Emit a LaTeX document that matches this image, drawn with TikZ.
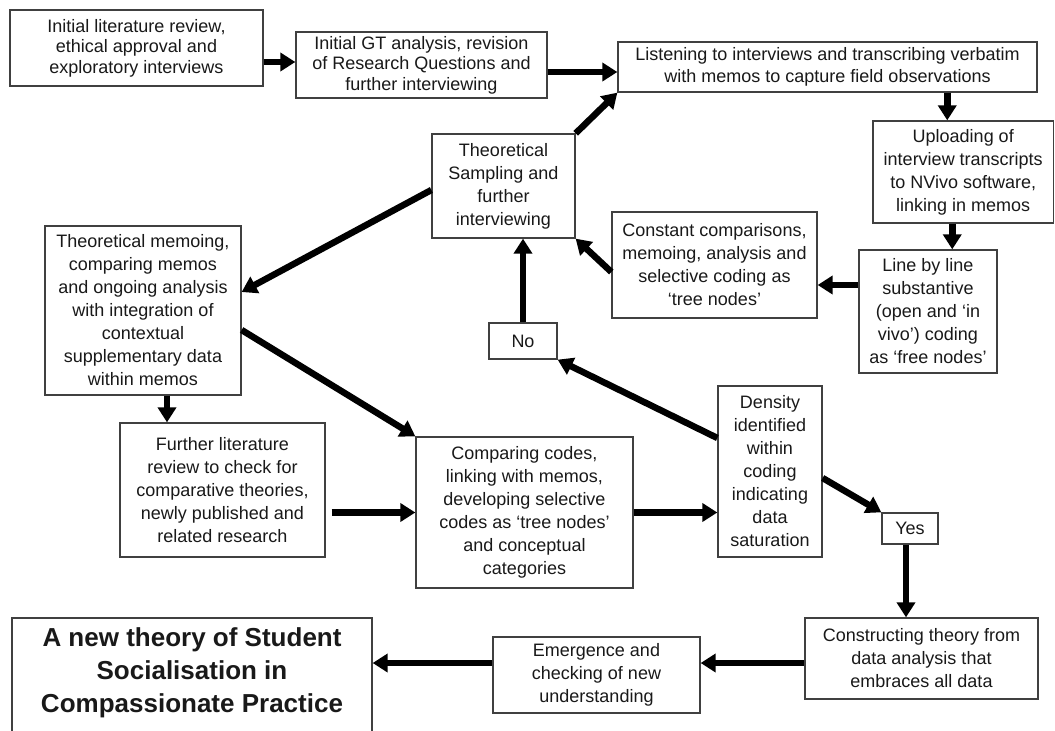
\documentclass[tikz,border=0pt]{standalone}
\usepackage{fontspec}
\setmainfont{Liberation Sans}
\usetikzlibrary{arrows.meta,calc}
\begin{document}
\begin{tikzpicture}[x=1pt,y=-1pt,
  bx/.style={draw=black!75, line width=1.3pt, align=center, inner sep=0pt,
    font=\fontsize{18}{23}\selectfont, text=black!90},
  tight/.style={font=\fontsize{18}{20.5}\selectfont},
  arr/.style={line width=6.5pt, -{Triangle[length=15pt,width=18pt]}}]
\useasboundingbox (0,0) rectangle (1055,731);
\fill[white] (0,0) rectangle (1055,731);

\node[bx, tight, minimum width=253, minimum height=76] (A) at (136.5,48)
  {Initial literature review,\\ ethical approval and\\ exploratory interviews};
\node[bx, tight, minimum width=251, minimum height=66] (B) at (421.5,65)
  {Initial GT analysis, revision\\ of Research Questions and\\ further interviewing};
\node[bx, font=\fontsize{18}{22}\selectfont, minimum width=419, minimum height=50] (C) at (827.5,67)
  {Listening to interviews and transcribing verbatim\\ with memos to capture field observations};
\node[bx, minimum width=180.5, minimum height=102] (D) at (963.25,172)
  {Uploading of\\ interview transcripts\\ to NVivo software,\\ linking in memos};
\node[bx, minimum width=138, minimum height=123] (E) at (928,311.5)
  {Line by line\\ substantive\\ (open and ‘in\\ vivo’) coding\\ as ‘free nodes’};
\node[bx, minimum width=205, minimum height=106] (F) at (714.5,265)
  {Constant comparisons,\\ memoing, analysis and\\ selective coding as\\ ‘tree nodes’};
\node[bx, minimum width=143, minimum height=104] (G) at (503.5,186)
  {Theoretical\\ Sampling and\\ further\\ interviewing};
\node[bx, minimum width=68, minimum height=36] (No) at (523,341) {No};
\node[bx, minimum width=196, minimum height=169] (M) at (143,310.5)
  {Theoretical memoing,\\ comparing memos\\ and ongoing analysis\\ with integration of\\ contextual\\ supplementary data\\ within memos};
\node[bx, minimum width=205, minimum height=134] (Fu) at (222.5,490)
  {Further literature\\ review to check for\\ comparative theories,\\ newly published and\\ related research};
\node[bx, minimum width=217, minimum height=151] (Co) at (524.5,512.5)
  {Comparing codes,\\ linking with memos,\\ developing selective\\ codes as ‘tree nodes’\\ and conceptual\\ categories};
\node[bx, minimum width=104, minimum height=171] (De) at (770,471.5)
  {Density\\ identified\\ within\\ coding\\ indicating\\ data\\ saturation};
\node[bx, minimum width=56, minimum height=31] (Yes) at (910,528.5) {Yes};
\node[bx, minimum width=233, minimum height=81] (K) at (921.5,658.5)
  {Constructing theory from\\ data analysis that\\ embraces all data};
\node[bx, minimum width=207, minimum height=76] (Em) at (596.5,675)
  {Emergence and\\ checking of new\\ understanding};
\node[bx, minimum width=360, minimum height=127] (fin) at (192,681.5) {};
\node[align=center, inner sep=0pt, font=\bfseries\fontsize{26}{33}\selectfont, text=black!90] (fintext) at (192,673)
  {A new theory of Student\\ Socialisation in\\ Compassionate Practice};

% connectors
\coordinate (ab) at ([yshift=3pt]B.west);
\draw[arr] (A.east |- ab) -- (ab);
\coordinate (bc) at ([yshift=-5pt]C.west);
\draw[arr] (B.east |- bc) -- (bc);
\draw[arr] (G.north east) -- (C.south west);
\coordinate (cd) at ([xshift=-16pt]D.north);
\draw[arr] (C.south -| cd) -- (cd);
\coordinate (de) at ([xshift=-11pt]D.south);
\draw[arr] (de) -- (de |- E.north);
\coordinate (ef) at ([yshift=-20pt]F.east);
\draw[arr] (E.west |- ef) -- (ef);
\draw[arr] ([yshift=-7pt]F.west) -- (G.south east);
\draw[arr] ([yshift=-4pt]G.west) -- ([yshift=18.5pt]M.east);
\draw[arr] ([yshift=-19.5pt]M.east) -- (Co.north west);
\coordinate (mf) at ([xshift=24pt]M.south);
\draw[arr] (mf) -- (mf |- Fu.north);
\coordinate (fc) at ([xshift=6pt]Fu.east);
\draw[arr] (fc |- Co.west) -- (Co.west);
\draw[arr] (Co.east) -- (Co.east -| De.west);
\draw[arr] (No.north) -- (No.north |- G.south);
\draw[arr] ([yshift=33.5pt]De.west) -- (No.south east);
\draw[arr] ([yshift=-6.5pt]De.east) -- (Yes.north west);
\coordinate (yk) at ([xshift=-4pt]Yes.south);
\draw[arr] (yk) -- (yk |- K.north);
\coordinate (ke) at ([yshift=-4.5pt]K.west);
\draw[arr] (ke) -- (ke -| Em.east);
\draw[arr] (Em.west |- ke) -- (ke -| fin.east);
\end{tikzpicture}
\end{document}
